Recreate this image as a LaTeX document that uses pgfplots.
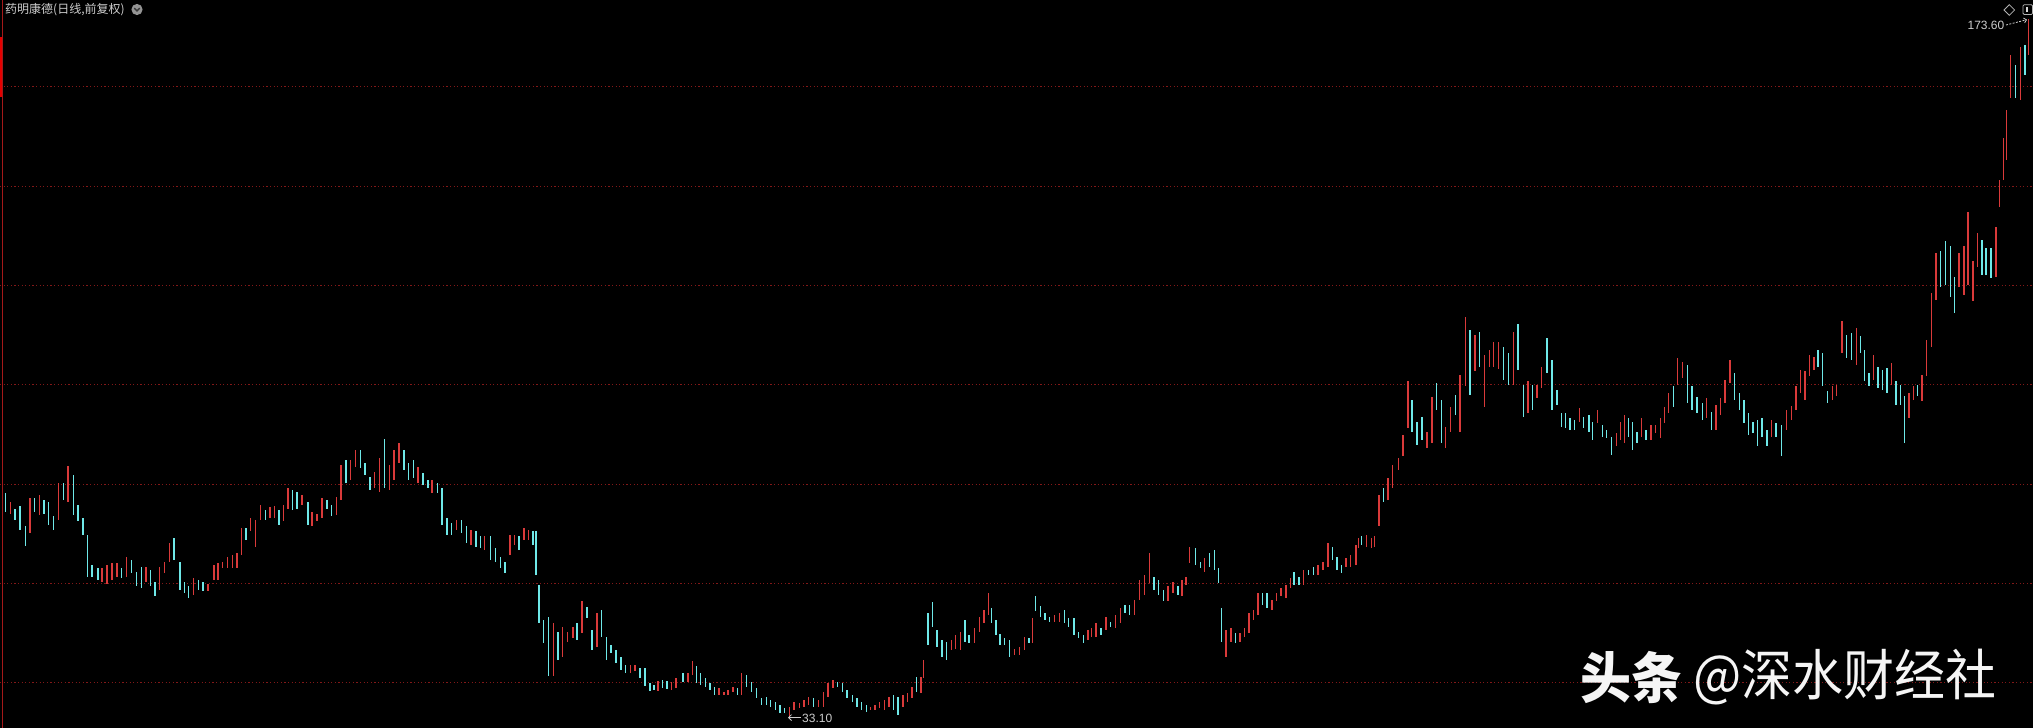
\documentclass[border=0pt]{standalone}
\usepackage{fontspec}
\setmainfont{Liberation Sans}
\newfontfamily\cjk{Noto Sans CJK SC}
\usepackage{pgfplots}
\usepackage{pgfplotstable}
\pgfplotsset{compat=1.18}
\usetikzlibrary{arrows.meta}

\definecolor{upred}{RGB}{218,58,58}
\definecolor{dncyan}{RGB}{110,232,232}
\definecolor{gridred}{RGB}{130,24,24}
\definecolor{edgered}{RGB}{165,25,25}
\definecolor{txtgray}{RGB}{205,205,205}

% daily candles (pairs merged): x position, open, close
\pgfplotstableread{
x o c
5.5 78.2 74.5
10.5 74.1 76.5
15.0 75.1 72.8
20.0 75.6 70.8
25.3 71.5 67.6
30.0 70.1 77.2
34.5 77.2 74.5
39.5 73.8 77.8
44.0 76.8 74.1
48.7 76.5 71.8
53.7 73.5 70.8
58.3 72.8 80.2
63.2 80.2 76.8
68.0 76.5 83.7
73.2 81.9 73.8
78.0 75.8 72.5
82.8 73.1 69.8
87.5 69.8 61.4
92.0 63.7 61.4
97.8 63.1 60.7
102.0 60.4 63.1
107.0 60.0 63.7
112.0 60.7 64.1
117.0 61.4 64.1
121.7 63.1 61.1
126.3 61.4 65.4
131.3 64.7 62.1
136.3 62.4 59.4
141.3 63.4 59.0
145.8 60.4 63.4
150.5 62.7 59.4
155.0 60.4 57.4
159.5 58.7 63.4
164.5 62.1 64.4
169.5 64.4 68.2
174.0 69.1 64.7
180.0 64.4 58.7
184.3 60.4 58.0
188.7 59.4 57.0
193.7 57.7 61.1
198.3 60.7 58.7
202.8 60.4 58.4
207.8 58.4 60.0
213.8 60.7 63.7
217.8 60.7 64.1
222.2 63.1 64.4
227.2 63.1 65.4
232.2 63.1 65.8
237.0 63.1 66.1
241.5 65.8 71.1
246.0 71.1 68.8
250.3 70.5 73.1
255.3 67.4 72.8
260.3 72.8 75.8
265.3 74.8 72.8
269.8 73.1 75.5
274.5 73.1 75.6
279.0 74.8 71.8
283.5 72.5 75.8
287.8 75.1 79.2
292.5 78.8 74.8
297.0 78.5 75.1
302.0 75.8 77.8
307.8 76.5 71.8
312.0 71.5 74.5
317.0 72.5 74.1
322.0 73.1 77.2
327.0 76.8 75.1
331.7 75.8 73.5
336.3 73.8 77.5
341.0 76.8 83.9
346.0 84.9 80.2
350.5 80.9 84.9
355.7 83.5 86.8
360.2 86.9 83.2
365.0 84.2 81.9
369.8 81.5 78.8
374.7 79.2 82.5
379.3 78.5 85.2
384.2 89.2 79.2
389.5 78.8 83.9
394.0 80.9 86.9
398.8 84.2 88.2
404.0 86.9 82.9
408.5 84.2 80.9
413.5 84.9 81.2
418.0 80.2 83.5
422.8 82.2 79.9
427.8 80.9 79.2
432.0 78.2 80.9
437.7 80.2 78.2
442.0 79.2 71.8
447.0 73.1 69.8
451.7 72.1 69.8
456.7 70.8 72.8
461.3 72.8 70.1
466.3 71.5 68.1
471.0 67.8 70.8
475.8 70.5 67.4
480.5 69.5 67.1
484.7 66.8 69.5
490.5 69.6 64.7
495.3 67.1 64.4
500.3 65.4 63.1
505.0 64.4 62.1
509.8 65.8 69.8
514.5 67.8 69.8
519.0 69.5 66.8
523.8 68.8 71.1
528.3 68.8 70.8
532.8 70.5 67.8
536.0 70.5 61.7
538.8 59.7 52.0
543.3 52.7 48.0
548.3 53.3 41.3
553.2 41.3 52.0
557.8 50.3 44.6
562.7 45.3 51.3
567.3 48.3 50.3
572.8 49.0 51.3
577.0 52.0 48.6
581.8 50.0 56.4
586.8 55.3 53.0
591.8 50.7 46.6
597.0 47.3 54.0
601.5 54.7 49.3
606.2 49.3 44.6
610.8 47.6 46.0
615.8 46.6 43.9
620.8 45.3 42.6
625.7 43.6 41.9
630.3 41.9 43.6
635.0 42.3 43.6
640.0 42.9 40.9
645.0 42.9 39.3
650.0 39.9 38.3
654.0 39.5 38.6
658.0 38.3 40.3
662.5 40.6 39.0
667.0 40.3 38.8
671.5 38.6 40.2
676.0 38.9 40.9
682.8 41.9 40.2
687.8 40.2 41.9
692.2 41.6 44.3
696.2 43.3 39.9
700.5 41.9 39.6
705.3 40.9 39.2
709.8 39.9 38.6
714.5 39.2 37.6
718.8 37.6 38.9
723.8 37.6 38.2
728.0 37.6 38.6
732.8 38.2 39.2
737.2 38.9 37.6
741.7 37.6 41.9
746.3 41.6 39.2
751.2 40.2 38.2
756.2 38.9 36.9
761.2 36.9 35.5
766.2 37.2 35.5
770.5 36.5 35.2
775.3 36.2 34.5
780.0 35.5 33.9
784.7 34.9 33.9
789.5 33.1 35.2
794.0 34.5 36.2
799.3 34.9 35.9
804.0 35.2 36.5
808.7 35.5 37.2
813.5 36.9 35.2
818.7 35.2 36.5
823.3 35.2 38.2
827.8 37.2 39.9
832.8 38.9 40.6
837.3 40.2 39.2
842.2 39.9 38.2
847.0 38.6 36.9
852.2 37.6 36.2
857.0 36.9 35.2
861.7 36.2 34.5
866.2 35.5 34.2
870.5 34.5 35.2
875.0 34.5 35.5
879.7 34.9 36.2
884.5 34.5 36.5
889.0 35.2 37.2
893.3 37.6 34.5
898.0 37.2 33.5
902.8 35.2 37.6
907.7 36.2 37.9
912.0 36.9 39.2
916.2 41.2 38.2
920.8 37.9 41.2
923.7 40.9 44.6
927.8 54.0 47.6
932.2 56.3 51.3
937.0 50.6 47.3
942.0 48.6 45.3
946.7 48.3 44.6
951.2 46.6 48.6
955.5 46.9 49.6
960.3 46.6 50.3
965.0 52.7 48.3
969.0 49.6 48.0
974.5 48.0 51.0
979.5 50.3 53.3
983.8 52.0 54.7
988.3 53.7 58.0
991.5 55.0 52.0
996.0 52.7 49.6
1000.0 49.9 47.6
1004.5 49.0 47.6
1009.5 48.6 45.3
1014.7 45.6 46.9
1019.5 45.6 47.3
1024.5 46.6 49.3
1028.8 49.0 48.0
1032.3 48.0 53.0
1035.5 57.4 54.4
1040.3 55.4 53.3
1045.0 54.0 52.7
1049.5 53.3 52.3
1054.5 52.3 53.7
1059.5 52.3 54.0
1064.5 54.7 52.0
1068.7 53.0 51.3
1073.8 53.0 49.7
1078.7 50.3 49.0
1083.3 49.7 48.0
1087.8 48.7 50.7
1091.7 49.3 51.0
1096.0 49.3 52.0
1101.0 51.0 49.7
1105.8 50.7 53.3
1110.5 52.3 51.3
1115.3 51.0 53.7
1120.3 52.0 55.0
1125.0 55.7 54.0
1129.5 55.7 53.7
1134.7 53.7 56.7
1139.5 56.7 60.7
1144.7 57.7 61.7
1149.3 60.1 66.1
1153.8 61.4 58.7
1158.7 60.7 57.7
1163.3 58.7 56.4
1167.8 56.4 59.4
1172.8 58.1 60.4
1177.8 59.4 57.7
1182.0 57.4 60.7
1186.0 59.7 61.4
1189.7 64.1 67.4
1195.3 67.1 63.8
1200.3 64.4 63.1
1204.7 62.4 65.1
1209.5 66.1 63.4
1214.7 66.8 62.8
1218.3 63.1 60.1
1221.7 55.0 48.3
1226.0 45.3 50.7
1231.0 48.3 51.0
1235.5 50.0 48.0
1240.0 48.3 50.0
1244.5 49.3 51.0
1249.0 50.0 54.0
1253.3 52.7 54.7
1257.8 53.7 58.1
1262.3 58.1 55.7
1267.0 58.1 55.0
1272.0 54.7 56.7
1276.7 56.4 58.1
1281.0 57.4 59.1
1285.8 57.0 59.7
1290.5 59.1 61.1
1294.0 62.4 59.7
1298.8 61.4 59.7
1303.7 59.7 62.8
1308.7 62.8 61.7
1313.3 63.4 61.7
1317.8 61.7 63.8
1322.8 62.8 64.4
1328.0 63.4 68.1
1332.5 67.4 64.8
1337.0 65.4 62.8
1341.7 63.8 62.1
1346.0 63.4 65.1
1350.5 63.4 65.8
1355.8 63.8 67.8
1358.3 67.1 69.1
1361.2 69.5 67.8
1366.2 67.4 69.8
1371.2 67.1 69.1
1374.3 67.4 69.5
1378.8 71.5 77.8
1383.3 79.2 76.5
1387.8 76.8 81.2
1392.7 79.2 83.9
1398.3 82.9 85.2
1402.8 85.6 89.9
1407.8 91.3 100.7
1412.0 97.0 90.6
1417.0 92.6 87.9
1422.0 93.6 88.9
1427.0 87.2 90.6
1431.8 88.2 97.6
1436.7 100.3 95.0
1441.2 97.0 88.2
1445.5 87.2 91.6
1450.5 90.6 95.6
1455.3 98.0 93.9
1460.0 90.6 102.0
1465.3 99.7 113.7
1470.0 111.1 98.0
1474.8 102.7 110.1
1479.5 110.7 103.7
1484.3 95.6 106.0
1489.2 103.7 107.0
1493.7 103.7 108.7
1498.5 103.3 108.7
1503.5 107.7 101.0
1508.5 106.4 100.0
1513.5 100.0 110.7
1517.8 112.3 103.0
1523.3 100.0 93.6
1527.8 94.3 100.7
1532.5 100.0 95.0
1537.0 97.3 100.0
1541.5 99.3 103.7
1547.0 109.4 102.3
1552.0 105.0 95.0
1557.0 99.0 96.0
1561.3 94.3 91.6
1565.5 94.3 91.3
1570.0 93.3 90.9
1574.7 92.9 90.9
1579.3 92.6 95.3
1583.3 93.6 91.3
1589.0 93.9 90.6
1592.5 92.6 88.9
1597.7 92.3 95.0
1602.3 91.9 89.6
1606.7 90.9 89.3
1611.2 89.6 85.9
1616.2 87.6 90.3
1620.5 88.9 92.6
1624.3 88.2 93.9
1628.5 93.3 89.6
1632.3 92.6 86.9
1636.8 90.6 88.2
1641.5 89.6 93.3
1646.0 90.9 88.9
1650.8 88.9 91.9
1655.5 90.3 91.9
1660.3 89.3 93.3
1664.5 92.3 95.6
1668.5 94.3 98.3
1673.2 99.7 95.6
1677.7 100.0 105.4
1682.2 101.3 104.7
1687.2 104.0 96.3
1692.0 99.7 95.0
1697.0 97.6 94.3
1702.2 96.3 93.0
1706.7 93.3 97.3
1711.2 94.6 91.0
1715.8 91.0 96.0
1720.2 94.0 97.3
1724.8 96.3 101.0
1729.8 100.4 105.0
1734.5 102.4 97.0
1739.2 98.4 95.0
1743.8 97.0 92.3
1748.3 94.3 90.0
1752.8 92.6 90.3
1757.3 93.0 87.6
1761.8 93.3 89.6
1766.8 91.0 87.6
1771.7 89.6 93.0
1776.0 92.3 89.6
1781.3 92.0 85.6
1786.5 91.0 95.0
1791.2 93.0 95.7
1795.8 95.0 99.7
1800.2 98.4 103.0
1804.8 97.0 102.7
1809.2 101.7 106.1
1813.8 103.0 105.7
1817.8 107.1 103.7
1822.7 106.4 99.7
1827.7 98.7 96.3
1832.2 97.0 99.7
1836.5 97.7 100.0
1842.0 106.4 112.8
1846.5 110.1 105.4
1851.3 110.4 105.0
1856.2 104.1 111.4
1860.5 109.8 106.4
1864.5 107.1 100.7
1869.0 102.4 99.7
1873.5 101.0 106.1
1877.8 103.7 99.4
1882.2 103.0 99.0
1886.8 103.4 98.4
1891.2 100.0 104.4
1895.8 100.7 96.0
1900.2 100.0 96.0
1904.5 97.7 88.3
1909.0 93.3 98.4
1913.3 97.0 99.7
1917.7 100.0 97.7
1921.8 96.7 102.0
1926.3 101.7 109.1
1931.3 107.7 118.5
1935.8 117.1 126.5
1940.5 126.9 119.8
1945.5 128.9 120.1
1950.2 127.9 117.8
1954.5 121.8 114.4
1959.0 119.8 126.5
1963.8 118.1 127.9
1968.0 120.1 134.9
1972.8 116.8 124.9
1977.2 123.8 130.5
1982.0 129.2 122.2
1986.0 127.5 122.2
1990.8 127.5 121.5
1995.8 121.8 131.9
1999.3 135.9 141.3
2003.2 141.3 149.7
2006.3 145.3 155.4
2010.2 157.7 166.4
2015.3 164.4 157.7
2020.5 157.4 168.1
2025.0 168.5 162.4
2028.3 166.4 173.6
}\kdata

\pgfplotsset{
    candles/.style={
        draw=none, mark=none,
        error bars/.cd, y dir=both, y explicit, error mark=none,
        error bar style={draw=#1, line width=1.4bp},
    },
    rising/.style={restrict expr to domain={\thisrow{c}-\thisrow{o}}{0:1000}},
    falling/.style={restrict expr to domain={\thisrow{c}-\thisrow{o}}{-1000:-0.001}},
}

\begin{document}
\begin{tikzpicture}
    \fill[black] (0,0) rectangle (2033bp,728bp);

    \begin{axis}[
        at={(0,0)}, anchor=south west,
        width=2033bp, height=728bp, scale only axis,
        xmin=0, xmax=2033, ymin=30.9, ymax=177.52,
        axis line style={draw=none},
        xtick=\empty,
        ytick={40,60,...,160}, yticklabels={},
        major tick length=0pt,
        ymajorgrids,
        grid style={gridred, line width=1bp, dash pattern=on 1.2bp off 2.4bp},
        unbounded coords=discard,
    ]

    \addplot[rising, candles=upred] table[
        x=x,
        y expr={(\thisrow{o}+\thisrow{c})/2},
        y error expr={abs(\thisrow{c}-\thisrow{o})/2}
    ]{\kdata};

    \addplot[falling, candles=dncyan] table[
        x=x,
        y expr={(\thisrow{o}+\thisrow{c})/2},
        y error expr={abs(\thisrow{c}-\thisrow{o})/2}
    ]{\kdata};

    \end{axis}

    \begin{scope}[x=1bp, y=1bp]
        % left edge
        \draw[edgered, line width=0.9bp] (2.7,0) -- (2.7,728);
        \fill[red!90!black] (0,631) rectangle (2.4,691);

        % title
        \node[anchor=west, inner sep=0, text=txtgray,
              font=\cjk\fontsize{12bp}{14bp}\selectfont] at (5,718.5) {药明康德(日线,前复权)};
        \fill[black!42] (137,718.5) circle (5.6);
        \draw[black!78, line width=1.3bp] (134.3,719.8) -- (137,717.1) -- (139.7,719.8);

        % top right icons
        \draw[black!30, line width=0.8bp] (2009.3,712.7) -- (2014.6,718) -- (2009.3,723.3) -- (2004,718) -- cycle;
        \draw[black!30, line width=0.8bp, rounded corners=1.2bp] (2023,713.5) rectangle (2032.6,723.3);
        \fill[black!15] (2025.6,715.5) rectangle (2028.4,721.3);

        % max label
        \node[anchor=base east, inner sep=0, text=txtgray,
              font=\fontsize{12bp}{14bp}\selectfont] at (2004.5,698) {173.60};
        \draw[txtgray, line width=0.8bp, dash pattern=on 2bp off 1.4bp,
              -{Straight Barb[length=2.5bp]}] (2006,703) -- (2027,708.3);

        % min label
        \draw[txtgray, line width=0.8bp, -{Straight Barb[length=3bp]}] (800.5,10.4) -- (788,10.4);
        \node[anchor=base west, inner sep=0, text=txtgray,
              font=\fontsize{12bp}{14bp}\selectfont] at (802,5.3) {33.10};

        % watermark
        \node[anchor=west, inner sep=0, text=black!4, yscale=1.08,
              font=\cjk\bfseries\fontsize{51bp}{60bp}\selectfont] at (1580,50.5) {头条};
        \node[anchor=west, inner sep=0, text=black!4, yscale=1.08,
              font=\cjk\fontsize{51bp}{60bp}\selectfont] at (1693,50.5) {@深水财经社};
    \end{scope}

    \pgfresetboundingbox
    \path[use as bounding box] (0,0) rectangle (2033bp,728bp);
\end{tikzpicture}
\end{document}
